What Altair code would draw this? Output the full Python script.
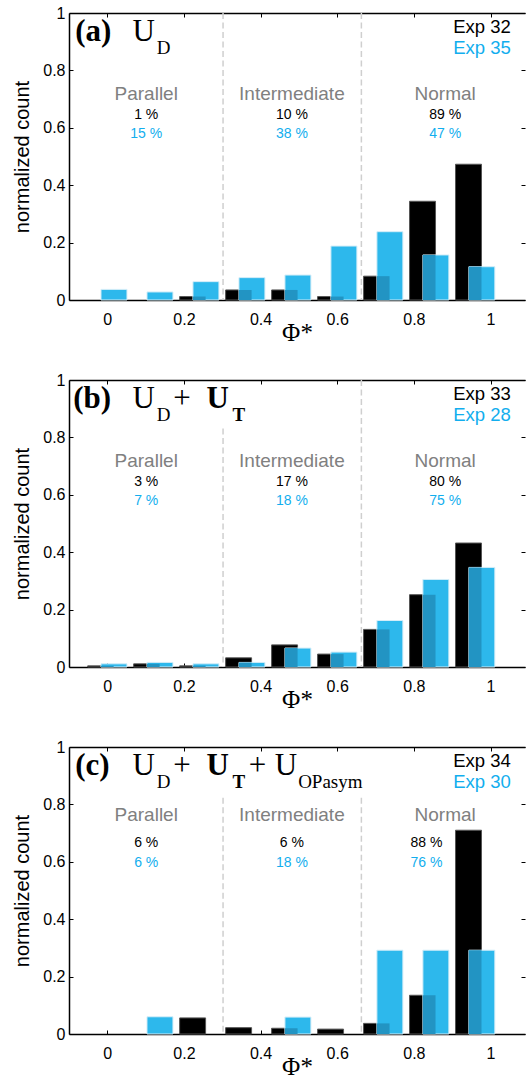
import altair as alt
import pandas as pd

# ---------------- data ----------------
centers = [0.0, 0.12, 0.24, 0.36, 0.48, 0.60, 0.72, 0.84, 0.96]

black_a = [0.0, 0.0, 0.012, 0.035, 0.035, 0.012, 0.083, 0.344, 0.473]
cyan_a = [0.037, 0.028, 0.064, 0.078, 0.087, 0.188, 0.238, 0.157, 0.116]
black_b = [0.004, 0.011, 0.004, 0.032, 0.077, 0.045, 0.131, 0.252, 0.432]
cyan_b = [0.011, 0.016, 0.011, 0.016, 0.066, 0.052, 0.162, 0.305, 0.347]
black_c = [0.0, 0.0, 0.056, 0.022, 0.020, 0.017, 0.037, 0.135, 0.710]
cyan_c = [0.0, 0.060, 0.0, 0.0, 0.059, 0.0, 0.292, 0.292, 0.292]

categories = ["Parallel", "Intermediate", "Normal"]
cat_x = [0.1015, 0.4817, 0.8817]

pct_black_a = ["1 %", "10 %", "89 %"]
pct_cyan_a = ["15 %", "38 %", "47 %"]
pct_black_b = ["3 %", "17 %", "80 %"]
pct_cyan_b = ["7 %", "18 %", "75 %"]
pct_black_c = ["6 %", "6 %", "88 %"]
pct_cyan_c = ["6 %", "18 %", "76 %"]

exp_a = ["Exp 32", "Exp 35"]
exp_b = ["Exp 33", "Exp 28"]
exp_c = ["Exp 34", "Exp 30"]

boundaries = [0.302, 0.663]

tick_values = [0, 0.2, 0.4, 0.6, 0.8, 1]

BLACK = "#000000"
CYAN = "#2DB8EC"
OVERLAP = "#2294C3"
CYAN_TXT = "#12AEEE"
GRAY_TXT = "#808080"

X_DOM = [-0.1, 1.09]
W, H = 456, 287

SANS = "Liberation Sans"
SERIF = "Liberation Serif"


def xs():
    return alt.Scale(domain=X_DOM, nice=False, zero=False)


def ys():
    return alt.Scale(domain=[0, 1], nice=False)


def panel(black, cyan, title_parts, pct_b, pct_c, pct_x, lab_y, pct_y, exps, dash_tops):
    bw = 0.0678  # bar width in data units
    off = 0.0348  # offset between the two series
    rows_b, rows_c, rows_o = [], [], []
    for c, b, cy in zip(centers, black, cyan):
        bl, br = c - 0.0513, c - 0.0513 + bw
        cl, cr = bl + off, bl + off + bw
        if b > 0:
            rows_b.append({"x": bl, "x2": br, "y": b})
        if cy > 0:
            rows_c.append({"x": cl, "x2": cr, "y": cy})
        if b > 0 and cy > 0:
            rows_o.append({"x": cl, "x2": br, "y": min(b, cy)})

    base_x_axis = alt.Axis(
        values=tick_values, format="~g", title="Φ*",
        tickSize=alt.ExprRef(expr="-4"), labelPadding=15,
        titleFont=SERIF, titleFontSize=25, titleFontWeight="normal",
        titlePadding=-7,
    )
    base_y_axis = alt.Axis(
        values=tick_values, format="~g", title="normalized count",
        tickSize=alt.ExprRef(expr="-4"), labelPadding=8,
        titleFont=SANS, titleFontSize=20, titleFontWeight="normal",
        titlePadding=10,
    )

    black_bars = alt.Chart(pd.DataFrame(rows_b)).mark_rect(
        color=BLACK, stroke="#555555", strokeWidth=1
    ).encode(
        x=alt.X("x:Q", scale=xs(), axis=base_x_axis),
        x2="x2:Q",
        y=alt.Y("y:Q", scale=ys(), axis=base_y_axis),
        y2=alt.datum(0),
    )
    cyan_bars = alt.Chart(pd.DataFrame(rows_c)).mark_rect(
        color=CYAN, stroke="#d4edf8", strokeWidth=1
    ).encode(
        x=alt.X("x:Q", scale=xs(), axis=None), x2="x2:Q",
        y=alt.Y("y:Q", scale=ys(), axis=None), y2=alt.datum(0),
    )
    layers = [black_bars, cyan_bars]
    if rows_o:
        over = alt.Chart(pd.DataFrame(rows_o)).mark_rect(color=OVERLAP).encode(
            x=alt.X("x:Q", scale=xs(), axis=None), x2="x2:Q",
            y=alt.Y("y:Q", scale=ys(), axis=None), y2=alt.datum(0),
        )
        layers.append(over)

    dash_df = pd.DataFrame({"x": boundaries, "top": dash_tops})
    dashes = alt.Chart(dash_df).mark_rule(
        color="#cfcfcf", strokeDash=[6, 3.5], strokeWidth=1.5
    ).encode(
        x=alt.X("x:Q", scale=xs(), axis=alt.Axis(
            orient="top", labels=False, title=None, values=tick_values,
            tickSize=alt.ExprRef(expr="-4"))),
        y=alt.Y("top:Q", scale=ys(), axis=alt.Axis(
            orient="right", labels=False, title=None, values=tick_values,
            domain=False, tickSize=alt.ExprRef(expr="-4"))),
        y2=alt.datum(0),
    )
    layers.insert(0, dashes)

    # category labels
    cat_df = pd.DataFrame({"t": categories, "x": cat_x, "y": [lab_y] * 3})
    layers.append(alt.Chart(cat_df).mark_text(
        font=SANS, fontSize=19, color=GRAY_TXT, baseline="middle"
    ).encode(x=alt.X("x:Q", scale=xs(), axis=None),
             y=alt.Y("y:Q", scale=ys(), axis=None), text="t:N"))
    pb = pd.DataFrame({"t": pct_b, "x": pct_x, "y": [pct_y[0]] * 3})
    pc = pd.DataFrame({"t": pct_c, "x": pct_x, "y": [pct_y[1]] * 3})
    for df, col in ((pb, BLACK), (pc, CYAN_TXT)):
        layers.append(alt.Chart(df).mark_text(
            font=SANS, fontSize=14, color=col, baseline="middle"
        ).encode(x=alt.X("x:Q", scale=xs(), axis=None),
                 y=alt.Y("y:Q", scale=ys(), axis=None), text="t:N"))

    # experiment labels
    ex = pd.DataFrame({"t": exps, "x": [1.053, 1.053], "y": [0.951, 0.879],
                       "c": [BLACK, CYAN_TXT]})
    layers.append(alt.Chart(ex).mark_text(
        font=SANS, fontSize=18.5, align="right", baseline="middle"
    ).encode(x=alt.X("x:Q", scale=xs(), axis=None),
             y=alt.Y("y:Q", scale=ys(), axis=None), text="t:N",
             color=alt.Color("c:N", scale=None)))

    # panel title pieces
    for kind, bold in (("main", False), ("main", True), ("sub", False), ("sub", True)):
        parts = [p for p in title_parts if p[2] == kind and p[3] == bold]
        if not parts:
            continue
        df = pd.DataFrame({"t": [p[0] for p in parts], "x": [p[1] for p in parts],
                           "y": [0.901 if kind == "main" else 0.857] * len(parts)})
        layers.append(alt.Chart(df).mark_text(
            font=SERIF, fontSize=31 if kind == "main" else 19,
            fontWeight="bold" if bold else "normal",
            align="left", baseline="alphabetic", color=BLACK
        ).encode(x=alt.X("x:Q", scale=xs(), axis=None),
                 y=alt.Y("y:Q", scale=ys(), axis=None), text="t:N"))

    return alt.layer(*layers).resolve_axis(x="independent", y="independent").properties(
        width=W, height=H)


t_a = [("(a)", -0.084, "main", True), ("U", 0.066, "main", False),
       ("D", 0.129, "sub", False)]
t_b = [("(b)", -0.089, "main", True), ("U", 0.066, "main", False),
       ("D", 0.129, "sub", False), ("+", 0.172, "main", False),
       ("U", 0.259, "main", True), ("T", 0.327, "sub", True)]
t_c = [("(c)", -0.084, "main", True), ("U", 0.066, "main", False),
       ("D", 0.129, "sub", False), ("+", 0.172, "main", False),
       ("U", 0.259, "main", True), ("T", 0.327, "sub", True),
       ("+", 0.369, "main", False), ("U", 0.437, "main", False),
       ("OPasym", 0.498, "sub", False)]

pa = panel(black_a, cyan_a, t_a, pct_black_a, pct_cyan_a, cat_x, 0.718,
           [0.645, 0.578], exp_a, [1.0, 1.0])
pb_ = panel(black_b, cyan_b, t_b, pct_black_b, pct_cyan_b, cat_x, 0.717,
            [0.643, 0.577], exp_b, [0.831, 1.0])
pc_ = panel(black_c, cyan_c, t_c, pct_black_c, pct_cyan_c,
            [0.1015, 0.4817, 0.833], 0.762, [0.664, 0.596], exp_c, [0.823, 0.823])

chart = alt.vconcat(pa, pb_, pc_, spacing=80, bounds="flush").configure_view(
    stroke=None
).configure_axis(
    labelFont=SANS, labelFontSize=16, labelColor=BLACK, titleColor=BLACK,
    domainColor=BLACK, domainWidth=1.5, tickColor=BLACK, tickWidth=1, grid=False,
).properties(padding={"left": 12, "top": 5, "right": 0, "bottom": 0})

chart.save("out.html", embed_options={"renderer": "svg", "actions": False})
